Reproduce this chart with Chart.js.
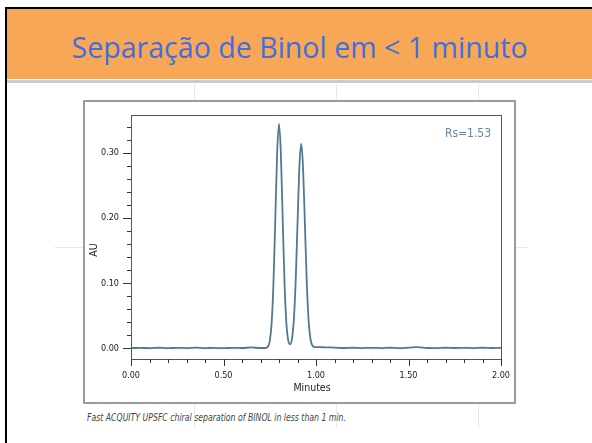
<!DOCTYPE html>
<html lang="pt">
<head>
<meta charset="UTF-8">
<title>Separação de Binol em &lt; 1 minuto</title>
<script src="https://cdn.jsdelivr.net/npm/chart.js"></script>
<style>
  html, body { margin: 0; padding: 0; background: #fff; }
  body { width: 592px; height: 443px; position: relative; overflow: hidden; }
  .frame-left { position: absolute; left: 5px; top: 7px; width: 2px; height: 436px; background: #000; }
  .frame-top { position: absolute; left: 5px; top: 7px; width: 587px; height: 2px; background: #000; }
  .title-bar { position: absolute; left: 7px; top: 9px; width: 585px; height: 70px; background: #f8a756; }
  .title-rule { position: absolute; left: 7px; top: 80px; width: 585px; height: 3px; background: #cbcbcb; }
  .title-text { position: absolute; left: 0; width: 600px; top: 32px; line-height: 29px; text-align: center; white-space: nowrap; }
  .title-text span { display: inline-block; vertical-align: top; font-family: 'Open Sans', sans-serif; font-size: 29px; line-height: 29px; color: #3f6fdf; transform-origin: center; }
  .guide { position: absolute; background: #e8e8e8; }
  .figure { position: absolute; left: 83px; top: 100px; width: 433px; height: 304px; border: 2px solid #9b9b9b; box-sizing: border-box; background: #fff; }
  .figure canvas { position: absolute; left: 0; top: 0; }
  .caption { position: absolute; left: 87px; top: 411px; line-height: 12px; white-space: nowrap; }
  .caption span { display: inline-block; vertical-align: top; font-family: 'Liberation Sans Narrow', 'DejaVu Sans Condensed', sans-serif; font-style: italic; font-size: 10.5px; line-height: 12px; color: #444; transform-origin: left center; }
</style>
</head>
<body>
  <div class="guide" style="left:194px; top:84px; width:1px; height:344px;"></div>
  <div class="guide" style="left:336px; top:84px; width:1px; height:344px;"></div>
  <div class="guide" style="left:478px; top:84px; width:1px; height:344px;"></div>
  <div class="guide" style="left:55px; top:247px; width:472px; height:1px;"></div>

  <div class="frame-top"></div>
  <div class="frame-left"></div>
  <div class="title-bar"></div>
  <div class="title-rule"></div>
  <div class="title-text"><span id="title">Separação de Binol em &lt; 1 minuto</span></div>

  <div class="figure">
    <canvas id="chromChart" width="429" height="300"></canvas>
  </div>
  <div class="caption"><span id="caption">Fast ACQUITY UPSFC chiral separation of BINOL in less than 1 min.</span></div>

<script>
  // retention time (min) and absorbance (AU)
  const minutes = [
    0.00, 0.05, 0.10, 0.15, 0.20, 0.25, 0.30, 0.35, 0.40, 0.45, 0.50, 0.55, 0.60, 0.65, 0.70,
    0.72, 0.73, 0.74, 0.75, 0.76, 0.77, 0.78, 0.79, 0.80, 0.81, 0.82, 0.83, 0.84, 0.85,
    0.86, 0.87, 0.88, 0.89, 0.90, 0.91, 0.92, 0.93, 0.94, 0.95, 0.96, 0.97, 0.98, 0.99, 1.00,
    1.02, 1.05, 1.10, 1.15, 1.20, 1.25, 1.30, 1.35, 1.40, 1.45, 1.50, 1.55, 1.60, 1.65, 1.70,
    1.75, 1.80, 1.85, 1.90, 1.95, 2.00
  ];
  const absorbance = [
    0.0005, 0.0008, 0.0004, 0.0010, 0.0003, 0.0009, 0.0005, 0.0011, 0.0004, 0.0008, 0.0003, 0.0009, 0.0006, 0.0014, 0.0006,
    0.0006, 0.0009, 0.0029, 0.0113, 0.0380, 0.0994, 0.1982, 0.3000, 0.3445, 0.3000, 0.1982, 0.0994, 0.0381, 0.0120,
    0.0063, 0.0146, 0.0430, 0.1024, 0.1909, 0.2775, 0.3145, 0.2775, 0.1909, 0.1024, 0.0430, 0.0145, 0.0045, 0.0022, 0.0018,
    0.0019, 0.0016, 0.0012, 0.0006, 0.0010, 0.0005, 0.0009, 0.0004, 0.0010, 0.0005, 0.0011, 0.0020, 0.0006, 0.0005, 0.0010,
    0.0006, 0.0009, 0.0005, 0.0010, 0.0006, 0.0008
  ];
  const xTickLabels = [0, 0.5, 1.0, 1.5, 2.0];
  const yTickLabels = [0, 0.1, 0.2, 0.3];
  const resolutionText = 'Rs=1.53';

  const narrowFont = "'Liberation Sans Narrow', 'DejaVu Sans Condensed', sans-serif";
  Chart.defaults.font.family = narrowFont;
  Chart.defaults.color = '#222';

  function fitWidth(el, target) {
    const w = el.getBoundingClientRect().width;
    el.style.transform = 'scaleX(' + (target / w) + ')';
  }
  fitWidth(document.getElementById('title'), 456);
  fitWidth(document.getElementById('caption'), 259);

  // frame, tick marks and annotations of the chromatogram
  const chromFrame = {
    id: 'chromFrame',
    afterDatasetsDraw(chart) {
      const ctx = chart.ctx;
      const a = chart.chartArea;
      const x = chart.scales.x;
      const y = chart.scales.y;
      ctx.save();
      ctx.strokeStyle = '#555';
      ctx.lineWidth = 1;
      ctx.strokeRect(Math.round(a.left) + 0.5, Math.round(a.top) + 0.5,
        Math.round(a.right - a.left), Math.round(a.bottom - a.top));

      ctx.strokeStyle = '#333';
      ctx.beginPath();
      for (let i = 0; i <= 20; i++) {
        const px = Math.round(x.getPixelForValue(i * 0.1)) + 0.5;
        const len = i % 5 === 0 ? 7 : 4;
        ctx.moveTo(px, a.bottom);
        ctx.lineTo(px, a.bottom + len);
      }
      for (let i = 0; i <= 17; i++) {
        const py = Math.round(y.getPixelForValue(i * 0.02)) + 0.5;
        const len = i % 5 === 0 ? 8 : 4;
        ctx.moveTo(a.left, py);
        ctx.lineTo(a.left - len, py);
      }
      ctx.stroke();

      ctx.fillStyle = '#222';
      ctx.font = '10.5px ' + narrowFont;
      ctx.textAlign = 'center';
      ctx.textBaseline = 'middle';
      ctx.fillText('Minutes', (a.left + a.right) / 2 - 4, a.bottom + 29);

      ctx.save();
      ctx.translate(a.left - 37, (a.top + a.bottom) / 2 + 13);
      ctx.rotate(-Math.PI / 2);
      ctx.fillText('AU', 0, 0);
      ctx.restore();

      ctx.fillStyle = '#6787a3';
      ctx.font = '12px ' + narrowFont;
      ctx.fillText(resolutionText, a.right - 33, a.top + 19);
      ctx.restore();
    }
  };

  const ctx = document.getElementById('chromChart').getContext('2d');
  const chromChart = new Chart(ctx, {
    type: 'line',
    data: {
      labels: minutes,
      datasets: [{
        label: 'BINOL',
        data: minutes.map((t, i) => ({ x: t, y: absorbance[i] })),
        borderColor: '#547891',
        borderWidth: 1.8,
        pointRadius: 0,
        cubicInterpolationMode: 'monotone',
        fill: false
      }]
    },
    options: {
      responsive: false,
      animation: false,
      layout: { padding: { top: 13, right: 13, left: 0, bottom: 0 } },
      plugins: {
        legend: { display: false },
        tooltip: { enabled: false }
      },
      scales: {
        x: {
          type: 'linear',
          min: 0,
          max: 2,
          grid: { display: false, drawTicks: false },
          border: { display: false },
          afterBuildTicks: scale => { scale.ticks = xTickLabels.map(v => ({ value: v })); },
          // fixed axis size, and no extra end padding from the tick label padding
          afterFit: scale => { scale.height = 43; scale.paddingLeft = 0; scale.paddingRight = 0; },
          ticks: {
            padding: 11,
            maxRotation: 0,
            font: { size: 9 },
            callback: v => Number(v).toFixed(2)
          }
        },
        y: {
          type: 'linear',
          min: -0.0163,
          max: 0.3583,
          grid: { display: false, drawTicks: false },
          border: { display: false },
          afterBuildTicks: scale => { scale.ticks = yTickLabels.map(v => ({ value: v })); },
          afterFit: scale => { scale.width = 46; scale.paddingTop = 0; scale.paddingBottom = 0; },
          ticks: {
            padding: 12,
            font: { size: 9 },
            callback: v => Number(v).toFixed(2)
          }
        }
      }
    },
    plugins: [chromFrame]
  });
</script>
</body>
</html>
